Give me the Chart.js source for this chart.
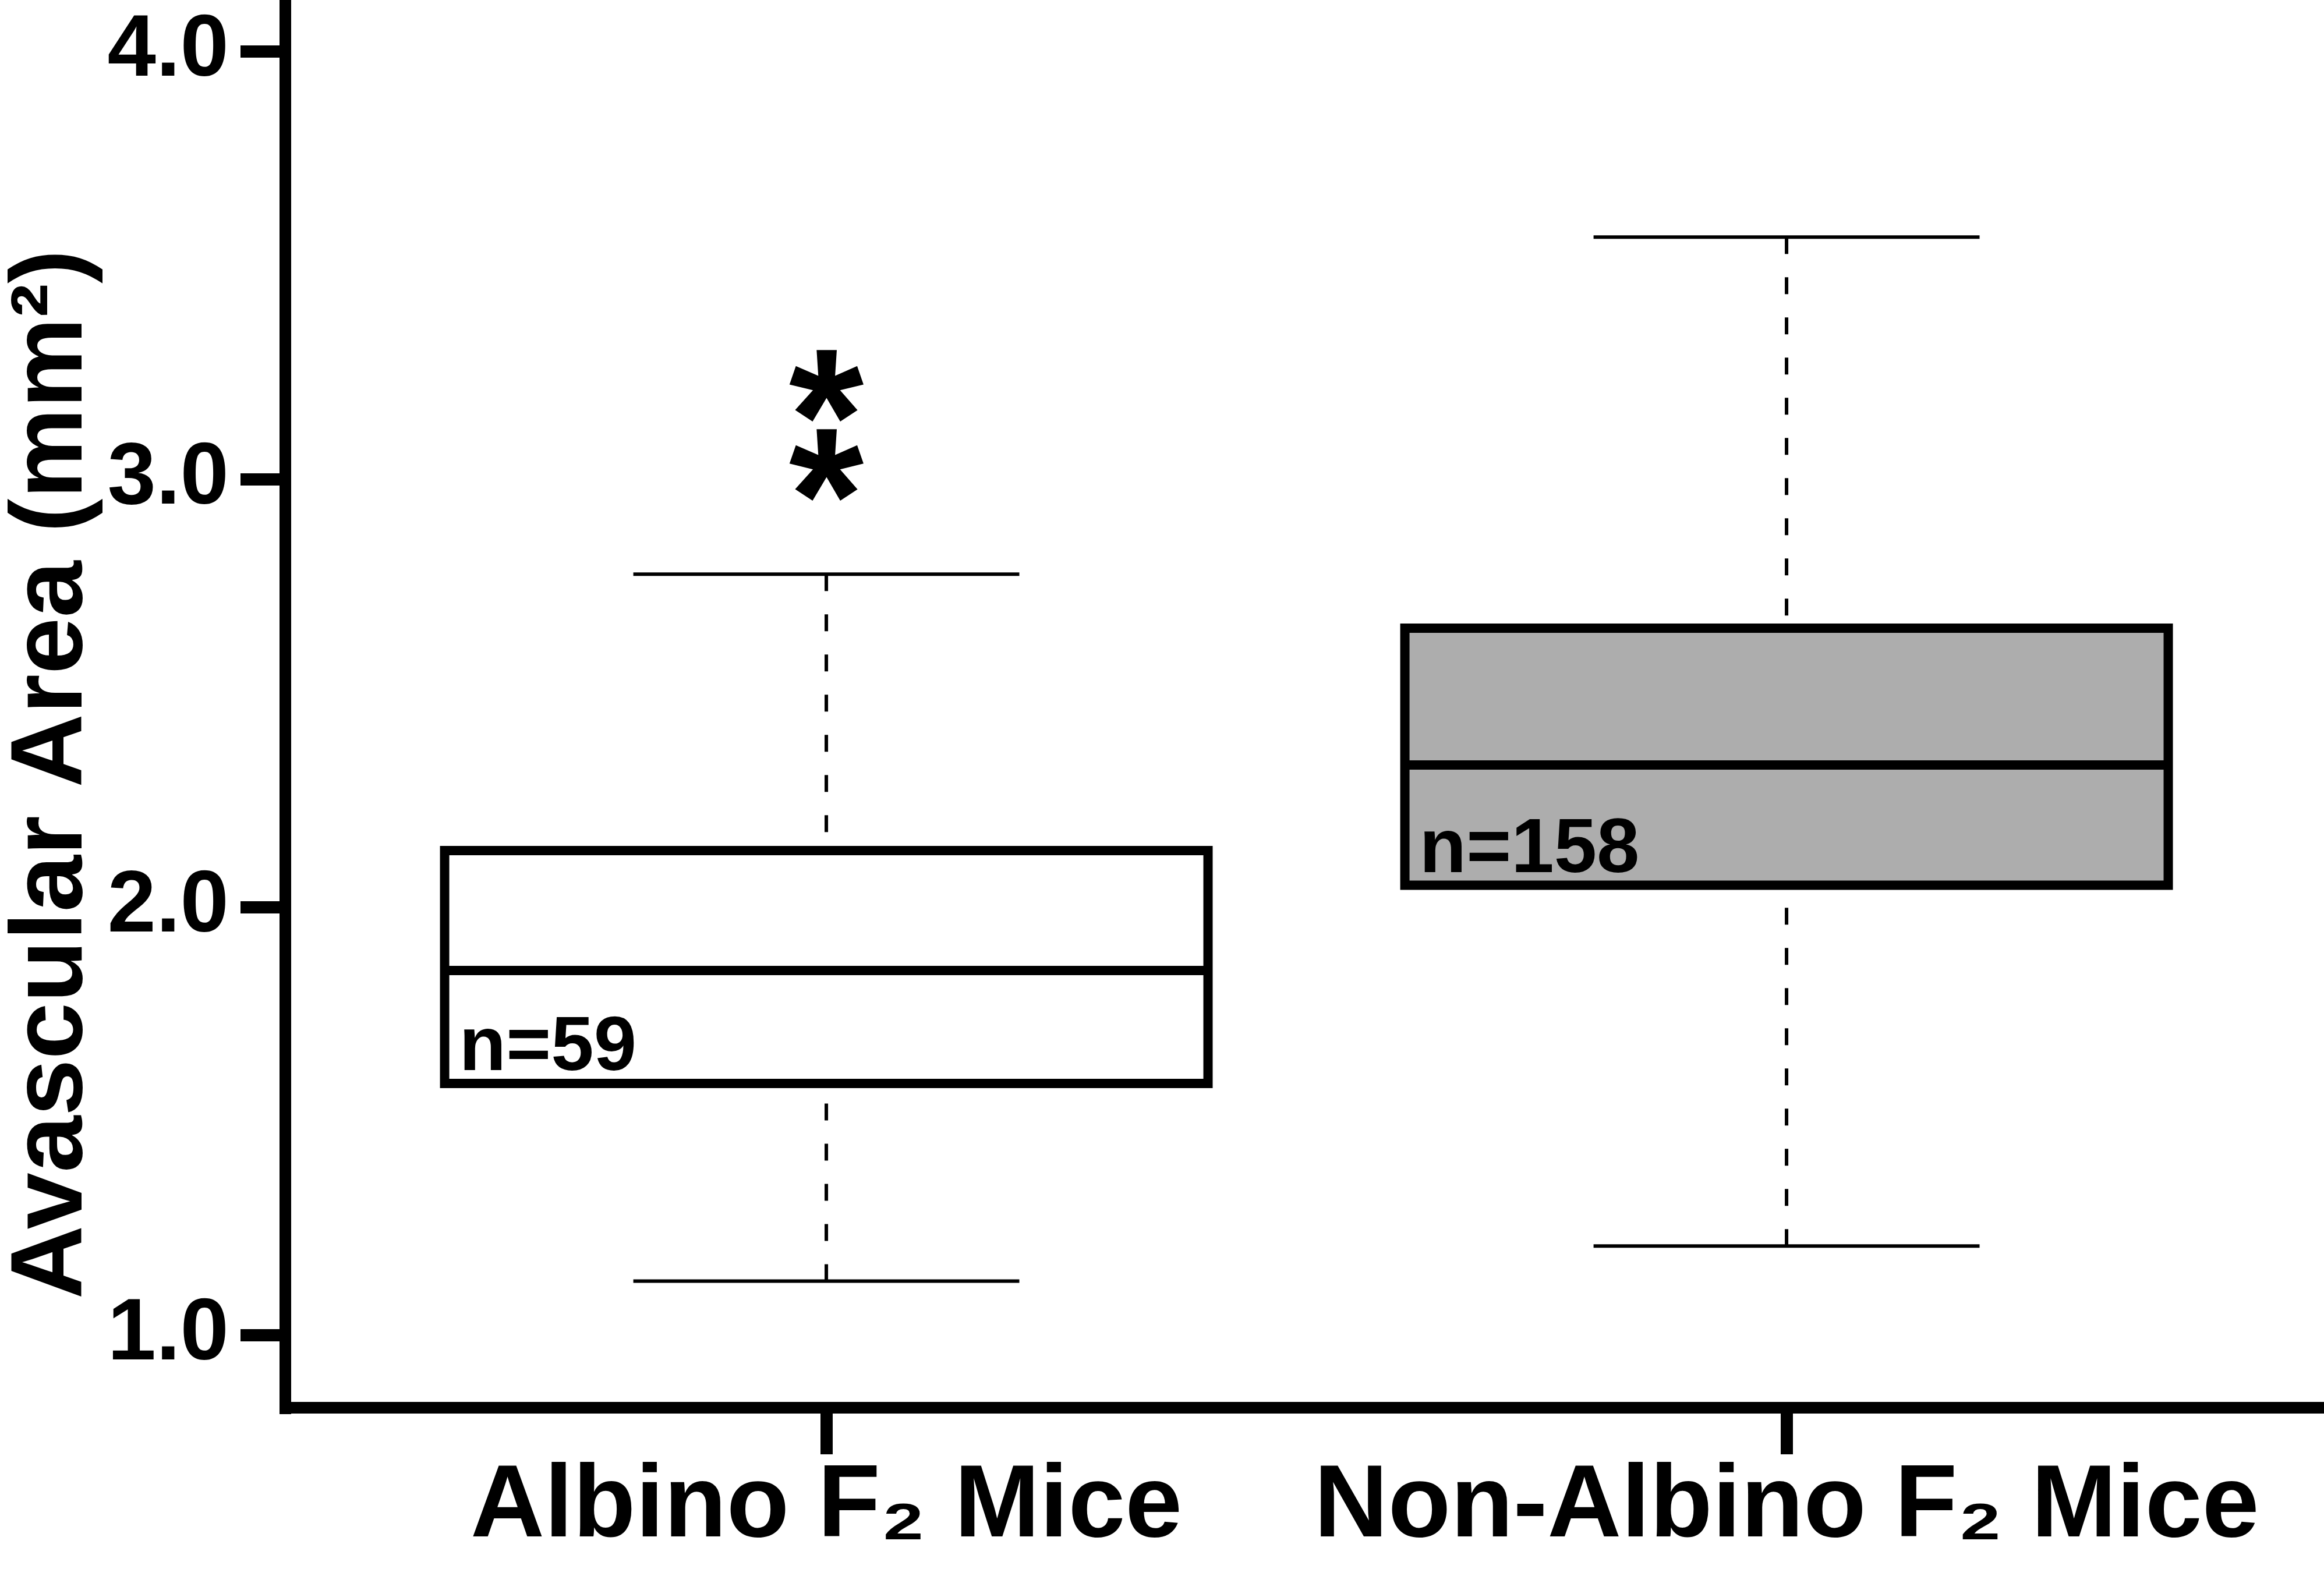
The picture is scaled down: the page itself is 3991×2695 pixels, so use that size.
<!DOCTYPE html>
<html lang="en">
  <head>
    <meta charset="UTF-8">
    <title>Avascular Area - Albino vs Non-Albino F2 Mice</title>
    <script src="https://cdn.jsdelivr.net/npm/chart.js"></script>
    <style>
      html, body {
        margin: 0;
        padding: 0;
        background: #fff;
      }

      .chart-container {
        width: 3991px;
        height: 2695px;
      }
    </style>
  </head>
  <body>
    <div class="chart-container">
      <canvas id="avascularChart"></canvas>
    </div>
    <script>
      // data
      const groups = ['Albino F\u2082 Mice', 'Non-Albino F\u2082 Mice'];
      const groupPos = [1, 2];
      const whiskerLow = [1.127, 1.209];
      const q1 = [1.589, 2.052];
      const median = [1.853, 2.333];
      const q3 = [2.133, 2.653];
      const whiskerHigh = [2.779, 3.567];
      const nLabels = ['n=59', 'n=158'];
      const boxColors = ['#ffffff', '#adadad'];
      const yTicks = [1, 2, 3, 4];
      const yTitle = 'Avascular Area (mm\u00b2)';
      // significance stars sit over the first group
      const sigGroup = 0;
      const sigStars = [3.222, 3.037];

      const BOX_HALF = 0.3975;
      const CAP_HALF = 0.201;
      const FONT = '"Liberation Sans", Arial, sans-serif';

      function line(points, extra) {
        return Object.assign({
          data: points,
          borderColor: '#000',
          borderWidth: 6,
          pointRadius: 0,
          fill: false,
          tension: 0
        }, extra);
      }

      const datasets = [];
      groupPos.forEach((x, i) => {
        const l = x - BOX_HALF, r = x + BOX_HALF;
        // box fill (q1 -> q3)
        datasets.push(line([{x: l, y: q3[i]}, {x: r, y: q3[i]}], {
          borderWidth: 0,
          fill: {value: q1[i]},
          backgroundColor: boxColors[i],
          order: 3
        }));
        // dashed whiskers, drawn from the cap towards the box
        datasets.push(line([{x: x, y: whiskerHigh[i]}, {x: x, y: q3[i]}], {borderDash: [29, 40], order: 2}));
        datasets.push(line([{x: x, y: whiskerLow[i]}, {x: x, y: q1[i]}], {borderDash: [29, 40], order: 2}));
        // caps
        datasets.push(line([{x: x - CAP_HALF, y: whiskerHigh[i]}, {x: x + CAP_HALF, y: whiskerHigh[i]}], {order: 2}));
        datasets.push(line([{x: x - CAP_HALF, y: whiskerLow[i]}, {x: x + CAP_HALF, y: whiskerLow[i]}], {order: 2}));
        // box outline, starts mid bottom edge so every corner gets a miter join
        datasets.push(line([
          {x: x, y: q1[i]}, {x: r, y: q1[i]}, {x: r, y: q3[i]},
          {x: l, y: q3[i]}, {x: l, y: q1[i]}, {x: x, y: q1[i]}
        ], {borderWidth: 16, borderJoinStyle: 'miter', order: 1}));
        // median
        datasets.push(line([{x: l, y: median[i]}, {x: r, y: median[i]}], {borderWidth: 16, order: 1}));
      });

      // n labels, stars and the y title
      const annotations = {
        id: 'boxAnnotations',
        afterDatasetsDraw(chart) {
          const {ctx} = chart;
          const xs = chart.scales.x;
          const ys = chart.scales.y;
          ctx.save();
          ctx.fillStyle = '#000';

          ctx.font = 'bold 132px ' + FONT;
          ctx.textAlign = 'left';
          ctx.textBaseline = 'alphabetic';
          groupPos.forEach((p, i) => {
            ctx.fillText(nLabels[i], xs.getPixelForValue(p - BOX_HALF) + 25, ys.getPixelForValue(q1[i]) - 23);
          });

          ctx.font = 'bold 330px ' + FONT;
          ctx.textAlign = 'center';
          const m = ctx.measureText('*');
          const mid = (m.actualBoundingBoxAscent - m.actualBoundingBoxDescent) / 2;
          sigStars.forEach(v => {
            ctx.fillText('*', xs.getPixelForValue(groupPos[sigGroup]), ys.getPixelForValue(v) + mid);
          });

          ctx.translate(ys.left + 92, (ys.top + ys.bottom) / 2 + 121);
          ctx.rotate(-Math.PI / 2);
          ctx.font = 'bold 175px ' + FONT;
          ctx.textAlign = 'center';
          ctx.textBaseline = 'middle';
          ctx.fillText(yTitle, 0, 0);
          ctx.restore();
        }
      };

      const ctx = document.getElementById('avascularChart').getContext('2d');
      new Chart(ctx, {
        type: 'line',
        data: {datasets: datasets},
        plugins: [annotations],
        options: {
          responsive: true,
          maintainAspectRatio: false,
          devicePixelRatio: 1,
          animation: false,
          layout: {padding: 0},
          plugins: {
            legend: {display: false},
            tooltip: {enabled: false}
          },
          scales: {
            x: {
              type: 'linear',
              position: 'bottom',
              min: 0.4366,
              max: 2.5597,
              afterBuildTicks: s => { s.ticks = groupPos.map(v => ({value: v})); },
              afterFit: s => {
                s.height = 277;
                s.paddingLeft = 0;
                s.paddingRight = 0;
              },
              ticks: {
                callback: (v, i) => groups[i],
                autoSkip: false,
                maxRotation: 0,
                padding: 4,
                color: '#000',
                font: {family: FONT, size: 176, weight: 'bold', lineHeight: 1}
              },
              grid: {drawOnChartArea: false, lineWidth: 21, tickLength: 80, color: '#000'},
              border: {display: true, width: 20, color: '#000'}
            },
            y: {
              type: 'linear',
              min: 0.831,
              max: 4.121,
              afterBuildTicks: s => { s.ticks = yTicks.map(v => ({value: v})); },
              afterFit: s => {
                s.width = 490;
                s.paddingTop = 0;
                s.paddingBottom = 0;
              },
              ticks: {
                callback: v => v.toFixed(1),
                padding: 20,
                color: '#000',
                font: {family: FONT, size: 150, weight: 'bold', lineHeight: 1}
              },
              grid: {drawOnChartArea: false, lineWidth: 21, tickLength: 77, color: '#000'},
              border: {display: true, width: 20, color: '#000'}
            }
          }
        }
      });
    </script>
  </body>
</html>
